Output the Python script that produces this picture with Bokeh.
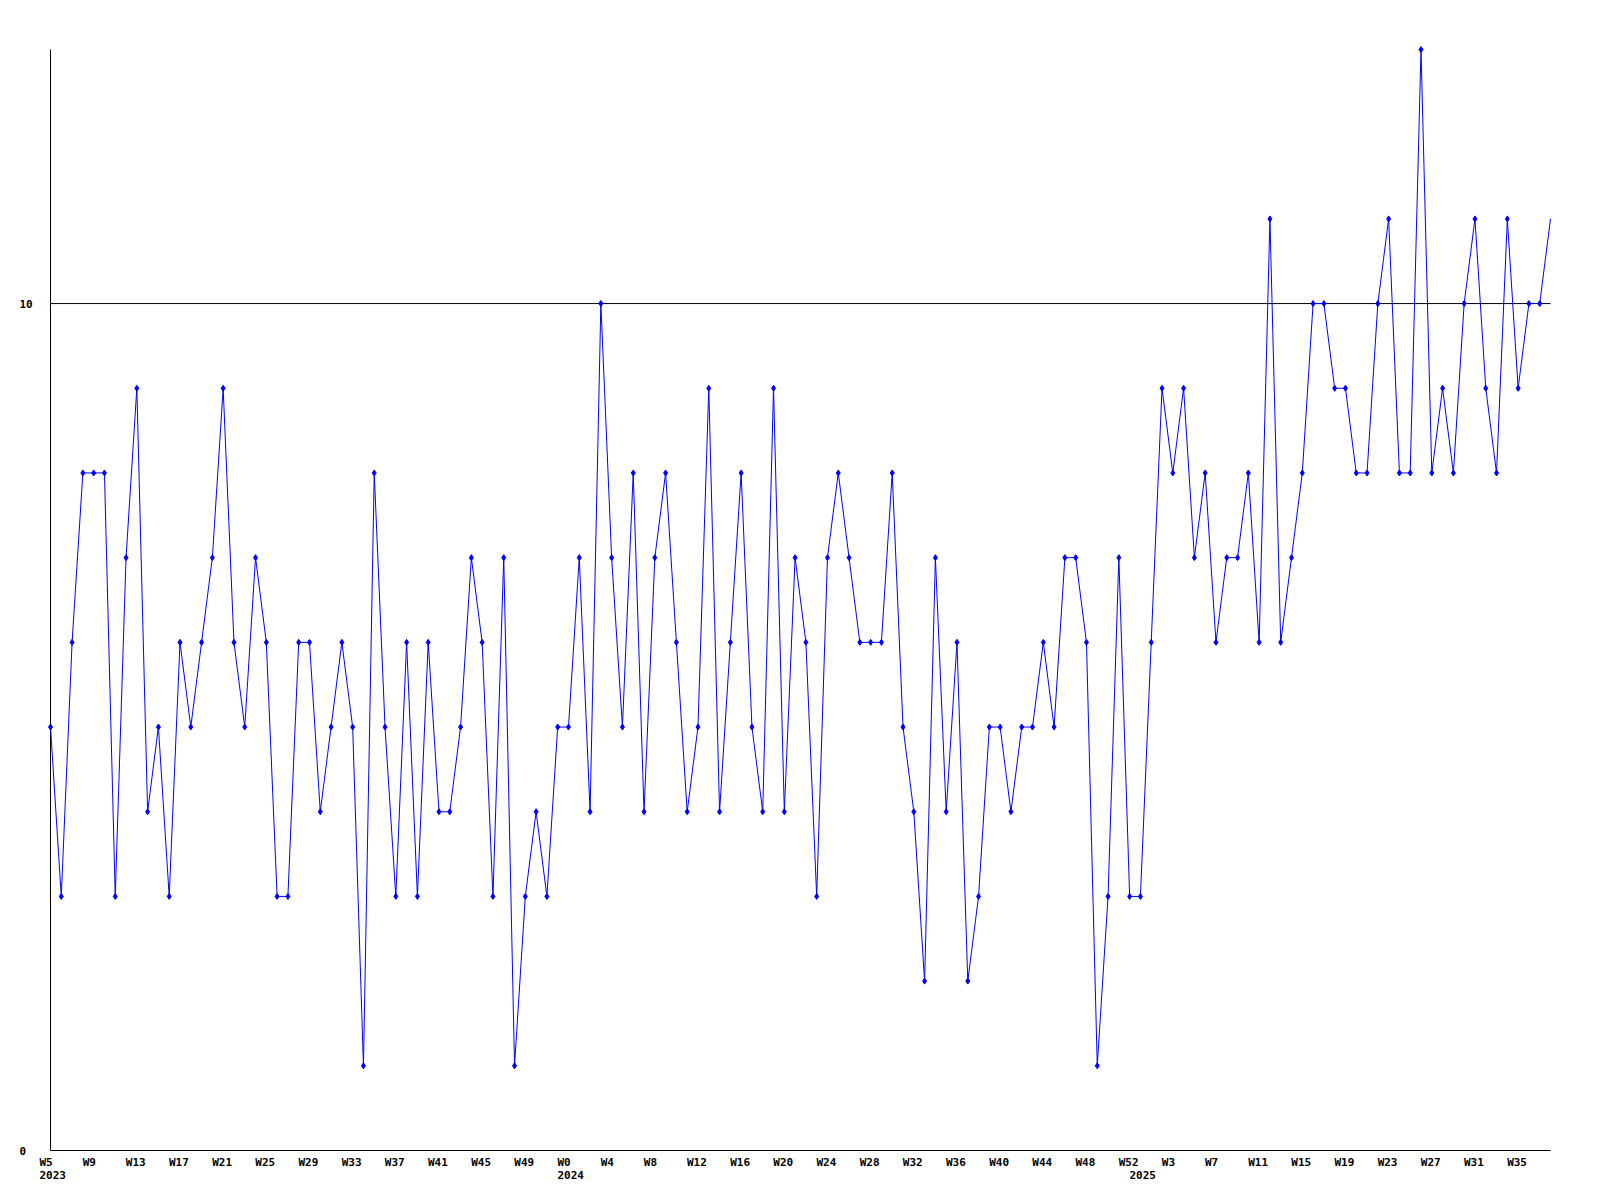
from bokeh.plotting import figure
from bokeh.models import Range1d
from bokeh.core.properties import value
from bokeh.embed import file_html
from bokeh.resources import INLINE

# weekly values, 2023 W5 .. 2025 W38
values = [
    5, 3, 6, 8, 8, 8, 3, 7, 9, 4,
    5, 3, 6, 5, 6, 7, 9, 6, 5, 7,
    6, 3, 3, 6, 6, 4, 5, 6, 5, 1,
    8, 5, 3, 6, 3, 6, 4, 4, 5, 7,
    6, 3, 7, 1, 3, 4, 3, 5, 5, 7,
    4, 10, 7, 5, 8, 4, 7, 8, 6, 4,
    5, 9, 4, 6, 8, 5, 4, 9, 4, 7,
    6, 3, 7, 8, 7, 6, 6, 6, 8, 5,
    4, 2, 7, 4, 6, 2, 3, 5, 5, 4,
    5, 5, 6, 5, 7, 7, 6, 1, 3, 7,
    3, 3, 6, 9, 8, 9, 7, 8, 6, 7,
    7, 8, 6, 11, 6, 7, 8, 10, 10, 9,
    9, 8, 8, 10, 11, 8, 8, 13, 8, 9,
    8, 10, 11, 9, 8, 11, 9, 10, 10, 11,
]

week_tick_index = [0, 4, 8, 12, 16, 20, 24, 28, 32, 36, 40, 44,
                   48, 52, 56, 60, 64, 68, 72, 76, 80, 84, 88, 92, 96, 100,
                   104, 108, 112, 116, 120, 124, 128, 132, 136]
week_tick_labels = ["W5", "W9", "W13", "W17", "W21", "W25", "W29", "W33", "W37", "W41", "W45", "W49",
                    "W0", "W4", "W8", "W12", "W16", "W20", "W24", "W28", "W32", "W36", "W40", "W44", "W48", "W52",
                    "W3", "W7", "W11", "W15", "W19", "W23", "W27", "W31", "W35"]
year_tick_index = [0, 48, 101]
year_tick_labels = ["2023", "2024", "2025"]
y_tick_values = [0, 10]
y_tick_labels = ["0", "10"]
y_max = 13

# layout (pixels)
W, H = 1600, 1200
M_LEFT, M_RIGHT, M_TOP, M_BOTTOM = 50, 50, 49, 50

n = len(values)
x = list(range(n))
px_x = (W - M_LEFT - M_RIGHT) / (n - 1)
px_y = (H - M_TOP - M_BOTTOM) / y_max

p = figure(width=W, height=H, output_backend="svg", toolbar_location=None,
           x_axis_location=None, y_axis_location=None,
           x_range=Range1d(-M_LEFT / px_x, (n - 1) + M_RIGHT / px_x),
           y_range=Range1d(-M_BOTTOM / px_y, y_max + M_TOP / px_y),
           min_border=0)
p.outline_line_color = None
p.grid.visible = False
p.background_fill_color = "white"
p.border_fill_color = "white"

# axis lines (x axis along y=0, y axis along x=first week)
p.segment(x0=[x[0], x[0]], y0=[0, 0], x1=[x[-1], x[0]], y1=[0, y_max],
          line_color="black", line_width=1)
# horizontal grid line at the upper y tick
p.segment(x0=[x[0]], y0=[y_tick_values[1]], x1=[x[-1]], y1=[y_tick_values[1]],
          line_color="black", line_width=1)

p.line(x, values, line_color="#0000FF", line_width=1)
p.scatter(x[:-1], values[:-1], marker="diamond", size=6, color="#0000FF")

font = value("DejaVu Sans Mono")
common = dict(text_font=font, text_font_style="bold", text_font_size="11px", text_color="black")

p.text(x=week_tick_index, y=[0] * len(week_tick_index), text=week_tick_labels,
       x_offset=-11, y_offset=5, text_align="left", text_baseline="top", **common)
p.text(x=year_tick_index, y=[0] * len(year_tick_index), text=year_tick_labels,
       x_offset=-11, y_offset=20, text_align="left", text_baseline="top", **common)
p.text(x=[x[0]] * len(y_tick_values), y=y_tick_values, text=y_tick_labels,
       x_offset=-31, text_align="left", text_baseline="middle", **common)

open("out.html", "w").write(file_html(p, INLINE))
